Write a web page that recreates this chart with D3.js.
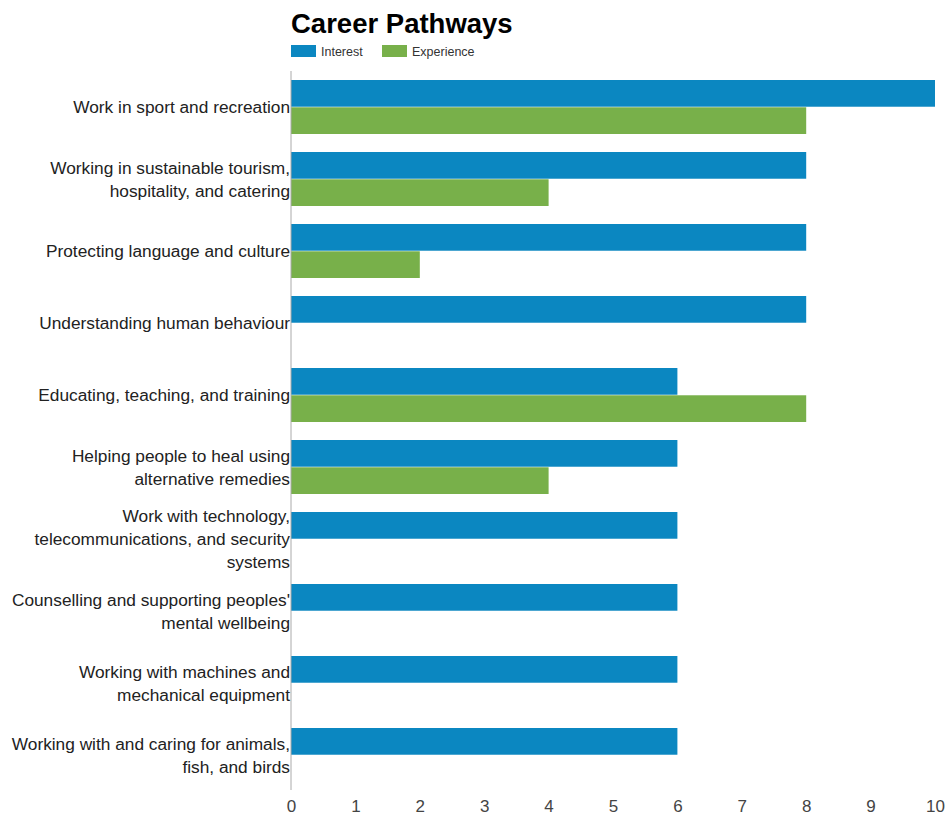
<!DOCTYPE html>
<html>
<head>
<meta charset="utf-8">
<script src="https://d3js.org/d3.v7.min.js"></script>
<style>
  body { margin: 0; background: #fff; }
  text { font-family: "Liberation Sans", Arial, sans-serif; }
</style>
</head>
<body>
<div id="chart"></div>
<script>
var svgWidth = 948;
var svgHeight = 815;

var margin = { top: 71, right: 13, bottom: 25, left: 291 };

var width = svgWidth - margin.left - margin.right;
var height = svgHeight - margin.top - margin.bottom;

// data
var categories = [
  "Work in sport and recreation",
  "Working in sustainable tourism, hospitality, and catering",
  "Protecting language and culture",
  "Understanding human behaviour",
  "Educating, teaching, and training",
  "Helping people to heal using alternative remedies",
  "Work with technology, telecommunications, and security systems",
  "Counselling and supporting peoples' mental wellbeing",
  "Working with machines and mechanical equipment",
  "Working with and caring for animals, fish, and birds"
];
var interest = [10, 8, 8, 8, 6, 6, 6, 6, 6, 6];
var experience = [8, 4, 2, 0, 8, 4, 0, 0, 0, 0];
var seriesNames = ["Interest", "Experience"];
var colors = ["#0b87c1", "#78b04a"];
var xTicks = [0, 1, 2, 3, 4, 5, 6, 7, 8, 9, 10];

var svg = d3.select("#chart")
  .append("svg")
  .attr("width", svgWidth)
  .attr("height", svgHeight);

// title and legend
svg.append("text")
  .attr("x", 291)
  .attr("y", 33)
  .style("font-size", "27.5px")
  .style("font-weight", "bold")
  .attr("fill", "#000")
  .text("Career Pathways");

var legend = svg.append("g").attr("transform", "translate(291, 45)");
var legendX = [0, 91];
seriesNames.forEach(function(name, i) {
  legend.append("rect")
    .attr("x", legendX[i]).attr("y", 0)
    .attr("width", 25).attr("height", 12)
    .attr("fill", colors[i]);
  legend.append("text")
    .attr("x", legendX[i] + 30).attr("y", 10.5)
    .style("font-size", "12.5px")
    .attr("fill", "#333")
    .text(name);
});

var chartGroup = svg.append("g")
  .attr("transform", `translate(${margin.left}, ${margin.top})`);

var xLinearScale = d3.scaleLinear()
  .domain([0, 10])
  .range([0, 644]);

var yBand = d3.scaleBand()
  .domain(categories)
  .range([0, 720])
  .paddingInner(0.25)
  .paddingOuter(0.125);

var ySub = d3.scaleBand()
  .domain(seriesNames)
  .range([0, yBand.bandwidth()])
  .paddingInner(0.02);

var rows = categories.map(function(c, i) {
  return { cat: c, values: [interest[i], experience[i]] };
});

var groups = chartGroup.selectAll(".row")
  .data(rows)
  .enter()
  .append("g")
  .attr("class", "row")
  .attr("transform", d => `translate(0, ${yBand(d.cat)})`);

groups.selectAll("rect")
  .data(d => d.values.map((v, i) => ({ name: seriesNames[i], value: v, i: i })))
  .enter()
  .append("rect")
  .attr("x", 0)
  .attr("y", d => ySub(d.name))
  .attr("height", ySub.bandwidth())
  .attr("width", d => xLinearScale(d.value))
  .attr("fill", d => colors[d.i]);

// y axis line
chartGroup.append("line")
  .attr("x1", 0).attr("x2", 0)
  .attr("y1", 0).attr("y2", 719)
  .attr("stroke", "#aaa")
  .attr("stroke-width", 1);

// category labels with wrapping
var lineHeight = 23;
var labelSize = "17.3px";
function wrapWords(text, maxW, measure) {
  var words = text.split(" ");
  var lines = [];
  var cur = "";
  words.forEach(function(w) {
    var t = cur ? cur + " " + w : w;
    measure.text(t);
    if (measure.node().getComputedTextLength() > maxW && cur) {
      lines.push(cur);
      cur = w;
    } else {
      cur = t;
    }
  });
  lines.push(cur);
  return lines;
}

var measure = svg.append("text").style("font-size", labelSize).attr("visibility", "hidden");

categories.forEach(function(c) {
  var lines = wrapWords(c, 284, measure);
  var cy = yBand(c) + yBand.bandwidth() / 2;
  var startY = cy - (lines.length - 1) * lineHeight / 2;
  var t = chartGroup.append("text")
    .attr("text-anchor", "end")
    .style("font-size", labelSize)
    .attr("fill", "#222");
  lines.forEach(function(l, j) {
    t.append("tspan")
      .attr("x", -1)
      .attr("y", startY + j * lineHeight)
      .attr("dy", "0.35em")
      .text(l);
  });
});
measure.remove();

// x axis tick labels
var bottomAxis = d3.axisBottom(xLinearScale)
  .tickValues(xTicks)
  .tickSize(0)
  .tickPadding(0);

var xAxis = chartGroup.append("g")
  .attr("transform", `translate(0, 729)`)
  .call(bottomAxis);
xAxis.select(".domain").remove();
xAxis.selectAll("text")
  .style("font-size", "17px")
  .style("font-family", "'Liberation Sans', Arial, sans-serif")
  .attr("fill", "#444");
</script>
</body>
</html>
